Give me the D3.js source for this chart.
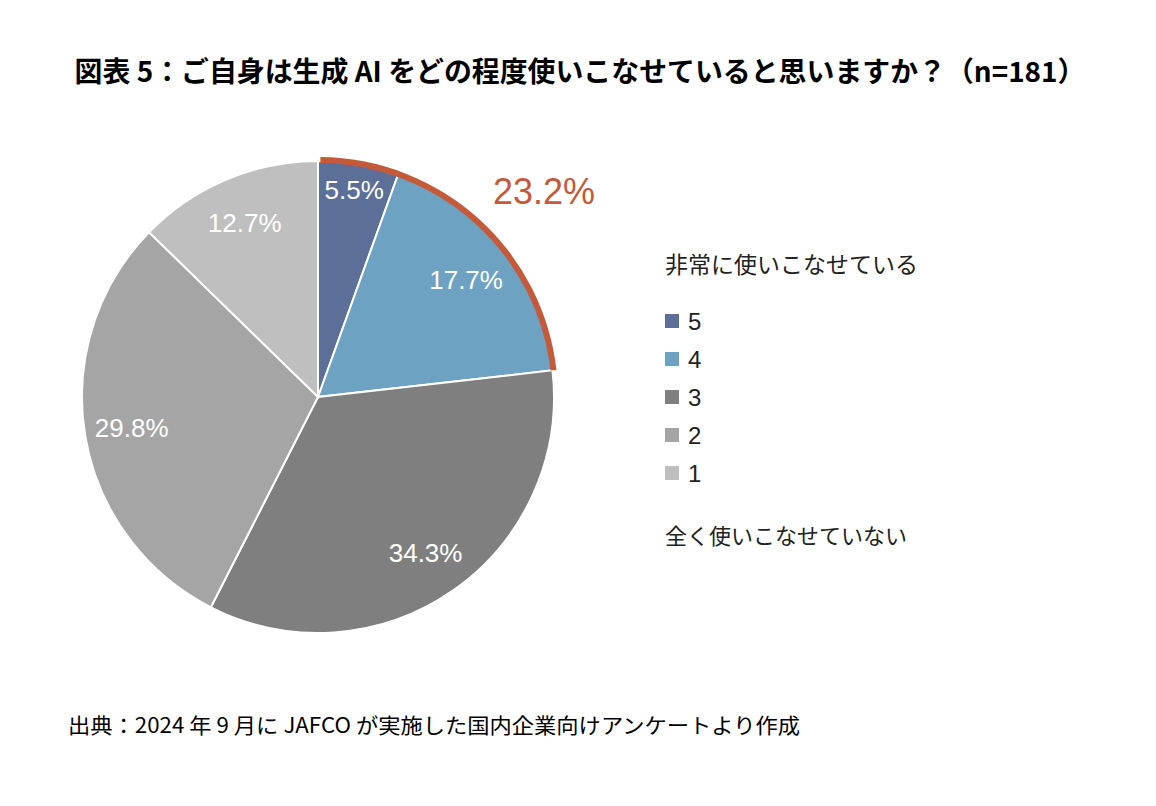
<!DOCTYPE html>
<html>
<head>
<meta charset="utf-8">
<script src="https://cdnjs.cloudflare.com/ajax/libs/d3/7.8.5/d3.min.js"></script>
<style>
  body { margin: 0; background: #fff; }
  svg text { font-family: "Liberation Sans", Arial, sans-serif; }
  .jp { font-family: "Noto Sans CJK JP", sans-serif; }
</style>
</head>
<body>
<svg id="PieVis" width="1156" height="806"></svg>
<script>
const width = 1156;
const height = 806;

/* DATA */
const levels = ["5", "4", "3", "2", "1"];
const shares = [5.5, 17.7, 34.3, 29.8, 12.7];
const colors = ["#5b6f99", "#6ea2c2", "#7f7f7f", "#a5a5a5", "#bfbfbf"];
const highlightLabel = "23.2%";
const highlightCount = 2; // top two levels (5 + 4)

const titleText = "図表 5：ご自身は生成 AI をどの程度使いこなせていると思いますか？（n=181）";
const legendTop = "非常に使いこなせている";
const legendBottom = "全く使いこなせていない";
const sourceText = "出典：2024 年 9 月に JAFCO が実施した国内企業向けアンケートより作成";

const pieCenter = { x: 318, y: 397 };
const radius = 236;

const svg = d3.select("svg#PieVis");

/* TITLE */
svg.append("text")
  .attr("class", "jp")
  .attr("x", 580)
  .attr("y", 72)
  .attr("dy", "0.36em")
  .attr("text-anchor", "middle")
  .attr("font-size", 27.9)
  .attr("font-weight", "bold")
  .attr("fill", "#000")
  .text(titleText);

/* PIE */
const plot = svg.append("g").attr("id", "plot")
  .attr("transform", translate(pieCenter.x, pieCenter.y));

const pie = d3.pie().sort(null).value(d => d.value);
const rows = levels.map((l, i) => ({ level: l, value: shares[i], color: colors[i] }));
const arcs = pie(rows);

const arc = d3.arc().innerRadius(0).outerRadius(radius);

plot.selectAll("path.slice")
  .data(arcs)
  .enter()
  .append("path")
  .attr("class", "slice")
  .attr("d", arc)
  .attr("fill", d => d.data.color)
  .attr("stroke", "#fff")
  .attr("stroke-width", 2);

/* highlight arc around levels 5 + 4 */
const hlEnd = arcs[highlightCount - 1].endAngle;
plot.append("path")
  .attr("d", d3.arc().innerRadius(radius - 2).outerRadius(radius + 4)({ startAngle: 0.01, endAngle: hlEnd }))
  .attr("fill", "#c55a3b");

const hlMid = hlEnd * 0.57;
plot.append("text")
  .attr("x", Math.sin(hlMid) * 306)
  .attr("y", -Math.cos(hlMid) * 306)
  .attr("dy", "0.36em")
  .attr("text-anchor", "middle")
  .attr("font-size", 36)
  .attr("fill", "#c55a3b")
  .text(highlightLabel);

/* slice labels */
plot.selectAll("text.label")
  .data(arcs)
  .enter()
  .append("text")
  .attr("class", "label")
  .attr("transform", function(d) {
    const r = d.data.value < 8 ? radius * 0.89 : radius * 0.8;
    const a = (d.startAngle + d.endAngle) / 2;
    return translate(Math.sin(a) * r, -Math.cos(a) * r);
  })
  .attr("dy", "0.36em")
  .attr("text-anchor", "middle")
  .attr("font-size", 26)
  .attr("fill", "#fff")
  .text(d => d.data.value.toFixed(1) + "%");

/* LEGEND */
const legend = svg.append("g").attr("id", "legend")
  .attr("transform", translate(665, 0));

legend.append("text")
  .attr("class", "jp")
  .attr("x", 0)
  .attr("y", 265)
  .attr("dy", "0.36em")
  .attr("font-size", 23)
  .attr("fill", "#222")
  .text(legendTop);

const legendY = d3.scalePoint().domain(levels).range([321, 473]);

const items = legend.selectAll("g.item")
  .data(rows)
  .enter()
  .append("g")
  .attr("class", "item")
  .attr("transform", d => translate(0, legendY(d.level)));

items.append("rect")
  .attr("x", 0)
  .attr("y", -7)
  .attr("width", 14)
  .attr("height", 14)
  .attr("fill", d => d.color);

items.append("text")
  .attr("x", 23)
  .attr("dy", "0.36em")
  .attr("font-size", 24)
  .attr("fill", "#222")
  .text(d => d.level);

legend.append("text")
  .attr("class", "jp")
  .attr("x", 0)
  .attr("y", 536)
  .attr("dy", "0.36em")
  .attr("font-size", 22)
  .attr("fill", "#222")
  .text(legendBottom);

/* SOURCE */
svg.append("text")
  .attr("class", "jp")
  .attr("x", 68)
  .attr("y", 725)
  .attr("dy", "0.36em")
  .attr("font-size", 21)
  .attr("textLength", 732)
  .attr("lengthAdjust", "spacingAndGlyphs")
  .attr("fill", "#000")
  .text(sourceText);

function translate(x, y) {
  return 'translate(' + String(x) + ',' + String(y) + ')';
}
</script>
</body>
</html>
